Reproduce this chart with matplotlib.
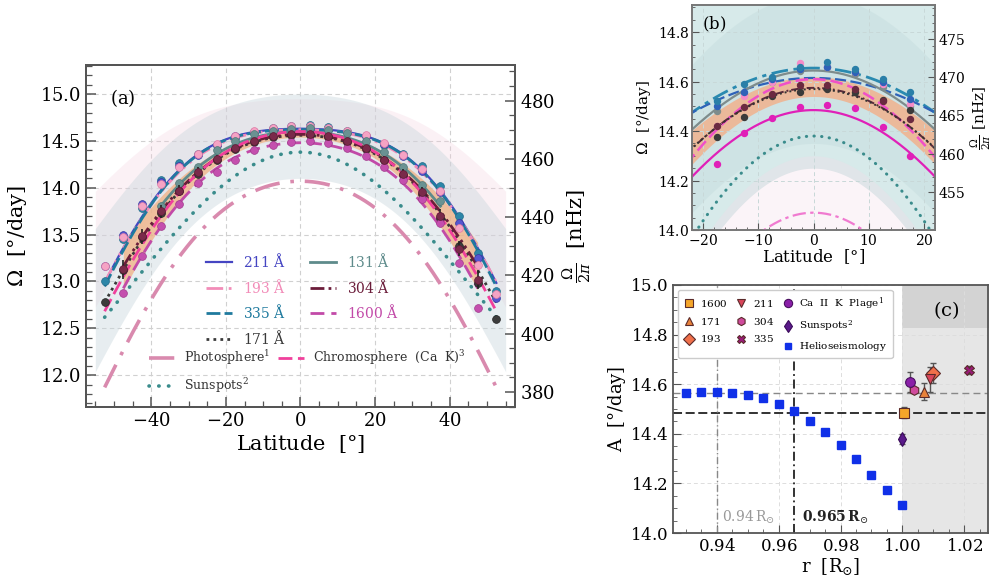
import numpy as np
import matplotlib
matplotlib.use('Agg')
import matplotlib.pyplot as plt
from matplotlib.ticker import FuncFormatter, MultipleLocator

plt.rcParams['mathtext.fontset'] = 'dejavuserif'
plt.rcParams['font.family'] = ['DejaVu Serif']
plt.rcParams['axes.unicode_minus'] = True

NHZ = 1e9 / (86400.0 * 360.0)   # (deg/day) -> nHz

# ======================= panel (a) data =======================
lat_pts = [-52.5, -47.5, -42.5, -37.5, -32.5, -27.5, -22.5, -17.5, -12.5, -7.5, -2.5,
           2.5, 7.5, 12.5, 17.5, 22.5, 27.5, 32.5, 37.5, 42.5, 47.5, 52.5]
lat_pts_47 = [-47.5, -42.5, -37.5, -32.5, -27.5, -22.5, -17.5, -12.5, -7.5, -2.5,
              2.5, 7.5, 12.5, 17.5, 22.5, 27.5, 32.5, 37.5, 42.5, 47.5]
lat_pts_37 = [-37.5, -32.5, -27.5, -22.5, -17.5, -12.5, -7.5, -2.5,
              2.5, 7.5, 12.5, 17.5, 22.5, 27.5, 32.5, 37.5]

pts_211 = [13.16, 13.50, 13.83, 14.06, 14.23, 14.35, 14.46, 14.55, 14.60, 14.63, 14.64,
           14.64, 14.63, 14.60, 14.55, 14.47, 14.34, 14.18, 13.95, 13.62, 13.25, 12.82]
pts_193 = [13.17, 13.47, 13.80, 14.04, 14.22, 14.36, 14.47, 14.55, 14.61, 14.64, 14.66,
           14.66, 14.64, 14.61, 14.56, 14.48, 14.35, 14.20, 13.97, 13.57, 13.18, 12.87]
pts_335 = [13.00, 13.45, 13.78, 14.08, 14.26, 14.36, 14.46, 14.53, 14.60, 14.64, 14.66,
           14.67, 14.65, 14.61, 14.55, 14.46, 14.36, 14.23, 14.02, 13.70, 13.30, 12.90]
pts_171 = [12.78, 13.12, 13.47, 13.73, 13.96, 14.15, 14.30, 14.41, 14.49, 14.54, 14.56,
           14.56, 14.54, 14.49, 14.41, 14.30, 14.14, 13.93, 13.68, 13.38, 12.98, 12.60]
pts_131 = [13.80, 14.05, 14.22, 14.40, 14.50, 14.57, 14.61, 14.63,
           14.64, 14.62, 14.58, 14.50, 14.38, 14.22, 14.03, 13.86]
pts_304 = [13.13, 13.48, 13.75, 13.97, 14.17, 14.31, 14.42, 14.50, 14.55, 14.57,
           14.57, 14.55, 14.50, 14.42, 14.30, 14.15, 13.95, 13.70, 13.35, 13.02]
err_304 = [0.10, 0.08, 0.07, 0.06, 0.05, 0.04, 0.03, 0.03, 0.02, 0.02,
           0.02, 0.02, 0.03, 0.03, 0.04, 0.05, 0.06, 0.07, 0.08, 0.10]
pts_1600 = [12.88, 13.27, 13.59, 13.83, 14.05, 14.17, 14.30, 14.40, 14.46, 14.49,
            14.50, 14.48, 14.42, 14.34, 14.22, 14.08, 13.88, 13.62, 13.20, 12.72]

# fitted rotation profiles  Omega = A + B sin^2 + C sin^4   (deg/day)
fit_211 = (14.63, -0.60, -3.20)
fit_193 = (14.62, -0.70, -3.00)
fit_335 = (14.62, -0.55, -3.35)
fit_171 = (14.56, -1.45, -2.20)
fit_131 = (14.60, -1.30, -2.30)
fit_304 = (14.57, -1.45, -2.10)
fit_1600 = (14.48, -1.50, -2.50)
fit_phot = (14.07, -2.20, -2.06)
fit_chrom = (14.60, -1.60, -2.30)
fit_spot = (14.38, -2.80, 0.00)

# uncertainty envelopes (A, B, C) of lower / upper edges
band_gray_lo = (14.10, -1.60, -2.20)
band_gray_hi = (15.00, -1.00, -1.70)
band_pink_lo = (14.50, -0.90, -2.60)
band_pink_hi = (14.95, -0.50, -1.45)
band_304_lo = (14.54, -1.65, -2.50)
band_304_hi = (14.60, -1.25, -1.70)

# ======================= panel (b) data =======================
lat_b = [-17.5, -12.5, -7.5, -2.5, 2.5, 7.5, 12.5, 17.5]
b_335 = [14.52, 14.59, 14.62, 14.66, 14.68, 14.65, 14.61, 14.56]
b_211 = [14.50, 14.56, 14.61, 14.65, 14.66, 14.64, 14.60, 14.53]
b_131 = [14.48, 14.55, 14.60, 14.645, 14.66, 14.63, 14.58, 14.50]
b_193 = [14.42, 14.54, 14.60, 14.675, 14.66, 14.64, 14.59, 14.51]
b_171 = [14.377, 14.458, 14.54, 14.559, 14.572, 14.56, 14.525, 14.485]
b_304 = [14.42, 14.498, 14.55, 14.588, 14.585, 14.57, 14.52, 14.45]
b_1600 = [14.265, 14.393, 14.454, 14.498, 14.505, 14.495, 14.417, 14.30]

fitb_335 = (14.655, -1.28, 0.0)
fitb_211 = (14.615, -1.00, 0.0)
fitb_131 = (14.645, -1.70, 0.0)
fitb_chrom = (14.61, -2.25, 0.0)
fitb_304 = (14.575, -1.75, 0.0)
fitb_171 = (14.57, -1.70, 0.0)
fitb_1600 = (14.485, -1.92, 0.0)
fitb_spot = (14.38, -2.93, 0.0)
fitb_phot = (14.07, -2.90, 0.0)

bandb_teal_lo = (14.25, -2.93, 0.0)
bandb_teal_hi = (15.60, -2.93, 0.0)
bandb_mid_lo = (14.35, -2.00, 0.0)
bandb_mid_hi = (14.95, -2.00, 0.0)
bandb_pink_lo = (13.60, -2.90, 0.0)
bandb_pink_hi = (14.30, -2.90, 0.0)
bandb_304_lo = (14.54, -1.95, 0.0)
bandb_304_hi = (14.62, -1.55, 0.0)

# ======================= panel (c) data =======================
helio_r = [0.930, 0.935, 0.940, 0.945, 0.950, 0.955, 0.960, 0.965,
           0.970, 0.975, 0.980, 0.985, 0.990, 0.995, 1.000]
helio_A = [14.566, 14.567, 14.569, 14.566, 14.555, 14.543, 14.520, 14.490,
           14.452, 14.406, 14.355, 14.297, 14.234, 14.173, 14.113]
obs_names = ['1600', '171', '193', '211', '304', '335']
obs_r = [1.0005, 1.0071, 1.0098, 1.0090, 1.0039, 1.0216]
obs_A = [14.485, 14.570, 14.645, 14.620, 14.575, 14.658]
obs_err = [0.022, 0.035, 0.040, 0.050, 0.010, 0.015]
plage_r, plage_A, plage_err = 1.0026, 14.610, 0.040
spot_r, spot_A, spot_err = 1.0000, 14.380, 0.020
ref_A = [14.565, 14.485]
ref_r = [0.940, 0.965]


def rot(lat, coef):
    s2 = np.sin(np.radians(lat)) ** 2
    return coef[0] + coef[1] * s2 + coef[2] * s2 ** 2


def math_fmt(fmt):
    return FuncFormatter(lambda v, p: '$' + (fmt % v) + '$')


SP = '#555555'
fig = plt.figure(figsize=(9.93, 5.84), dpi=100)

# ---------------------------------------------------------------- (a)
axa = fig.add_axes([0.0866, 0.3031, 0.432, 0.5856])
axa.set_xlim(-57.5, 57.5)
axa.set_ylim(11.66, 15.31)
axa.set_axisbelow(True)
axa.grid(True, which='major', ls=(0, (4, 3)), color='#d0d0d0', lw=0.8)

lf = np.linspace(-52.5, 52.5, 300)
lb_a = np.linspace(-55, 55, 300)
l47 = np.linspace(-47.5, 47.5, 300)
l37 = np.linspace(-37.5, 37.5, 300)
axa.fill_between(lb_a, rot(lb_a, band_pink_lo), rot(lb_a, band_pink_hi), color='#f4cddd', alpha=0.28, lw=0, zorder=1)
axa.fill_between(lb_a, rot(lb_a, band_gray_lo), rot(lb_a, band_gray_hi), color='#c8d6dc', alpha=0.42, lw=0, zorder=1)
axa.fill_between(l47, rot(l47, band_304_lo), rot(l47, band_304_hi), color='#f2ae7c', alpha=0.7, lw=0, zorder=2)

c211, c193, c335, c171 = '#4545c2', '#f28cb8', '#1f7a9e', '#3a3a3a'
c131, c304, c1600 = '#5e8b8b', '#6b1d3a', '#c24aa8'
cphot, cchrom, cspot = '#d98aae', '#f0409c', '#3a8c8c'

l_211, = axa.plot(lf, rot(lf, fit_211), color=c211, lw=1.6, ls='-', zorder=3, label=r'$211\ \mathrm{\AA}$')
l_193, = axa.plot(lf, rot(lf, fit_193), color=c193, lw=2.0, ls=(0, (6, 2, 1, 2, 1, 2)), zorder=3, label=r'$193\ \mathrm{\AA}$')
l_335, = axa.plot(lf, rot(lf, fit_335), color=c335, lw=2.0, ls=(0, (5, 1.5)), zorder=3, label=r'$335\ \mathrm{\AA}$')
l_171, = axa.plot(lf, rot(lf, fit_171), color=c171, lw=2.0, ls=(0, (1, 1.5)), zorder=3, label=r'$171\ \mathrm{\AA}$')
l_131, = axa.plot(l37, rot(l37, fit_131), color=c131, lw=2.0, ls='-', zorder=3, label=r'$131\ \mathrm{\AA}$')
l_304, = axa.plot(l47, rot(l47, fit_304), color=c304, lw=2.0, ls=(0, (5, 1.5, 1, 1.5, 1, 1.5)), zorder=3, label=r'$304\ \mathrm{\AA}$')
l_1600, = axa.plot(l47, rot(l47, fit_1600), color=c1600, lw=2.0, ls=(0, (5, 2.5)), zorder=3, label=r'$1600\ \mathrm{\AA}$')
l_phot, = axa.plot(lf, rot(lf, fit_phot), color=cphot, lw=2.6, ls=(0, (7, 3, 1, 3)), zorder=3, label=r'$\mathrm{Photosphere}^1$')
l_chrom, = axa.plot(lf, rot(lf, fit_chrom), color=cchrom, lw=2.0, ls=(0, (5, 2)), zorder=3, label=r'$\mathrm{Chromosphere\ \ (Ca\ \ K)}^3$')
l_spot, = axa.plot(lf, rot(lf, fit_spot), color=cspot, lw=2.6, ls=(0, (0.1, 2.6)), dash_capstyle='round', zorder=3, label=r'$\mathrm{Sunspots}^2$')

ms = 5.6
axa.plot(lat_pts, pts_335, 'o', ms=ms, color='#2d86a8', mec='#1f6a88', mew=0.5, zorder=4)
axa.plot(lat_pts, pts_211, 'o', ms=ms, color='#5656d0', mec='#3535a0', mew=0.5, zorder=4)
axa.plot(lat_pts, pts_193, 'o', ms=ms, color='#f5a3c4', mec='#e07aa5', mew=0.5, zorder=4)
axa.plot(lat_pts, pts_171, 'o', ms=ms, color='#3c3c3c', mec='#222222', mew=0.5, zorder=4)
axa.plot(lat_pts_37, pts_131, 'o', ms=ms, color='#6a9292', mec='#4e7676', mew=0.5, zorder=4)
axa.errorbar(lat_pts_47, pts_304, yerr=err_304, fmt='o', ms=ms, color='#7a2a4a', mec='#5a1a33',
             mew=0.5, ecolor='#222222', elinewidth=1.2, capsize=0, zorder=4)
axa.plot(lat_pts_47, pts_1600, 'o', ms=ms, color='#c44fae', mec='#a03a8c', mew=0.5, zorder=4)

axa.xaxis.set_major_locator(MultipleLocator(20))
axa.xaxis.set_minor_locator(MultipleLocator(5))
axa.yaxis.set_major_locator(MultipleLocator(0.5))
axa.yaxis.set_minor_locator(MultipleLocator(0.1))
axa.xaxis.set_major_formatter(math_fmt('%g'))
axa.yaxis.set_major_formatter(math_fmt('%.1f'))
axa.tick_params(which='both', direction='in', top=False, right=False, labelsize=13, color=SP)
axa.tick_params(which='major', length=7, width=1.1)
axa.tick_params(which='minor', length=4, width=0.9)
axa.set_xlabel(r'$\mathrm{Latitude\ \ [°]}$', fontsize=15, labelpad=2)
axa.set_ylabel(r'$\Omega\ \ [\mathrm{°/day}]$', fontsize=15, labelpad=8)
for s in axa.spines.values():
    s.set_color(SP)
    s.set_linewidth(1.4)
axa.text(0.055, 0.935, r'$\mathrm{(a)}$', transform=axa.transAxes, fontsize=13, va='top')

leg1 = axa.legend(handles=[l_211, l_193, l_335, l_171, l_131, l_304, l_1600], ncol=2,
                  loc='upper left', bbox_to_anchor=(0.25, 0.49), frameon=False, fontsize=10,
                  handlelength=1.9, handletextpad=0.8, columnspacing=1.7, labelspacing=0.55,
                  labelcolor='linecolor')
axa.add_artist(leg1)
leg2 = axa.legend(handles=[l_phot, l_spot, l_chrom], ncol=2, loc='upper left',
                  bbox_to_anchor=(0.121, 0.204), frameon=False, fontsize=9,
                  handlelength=2.1, handletextpad=0.7, columnspacing=0.6, labelspacing=0.7,
                  labelcolor='#333333')

axa2 = axa.twinx()
axa2.set_ylim(11.66 * NHZ, 15.31 * NHZ)
axa2.yaxis.set_major_locator(MultipleLocator(20))
axa2.yaxis.set_minor_locator(MultipleLocator(5))
axa2.yaxis.set_major_formatter(math_fmt('%g'))
axa2.tick_params(which='both', direction='in', labelsize=13, color=SP)
axa2.tick_params(which='major', length=7, width=1.1)
axa2.tick_params(which='minor', length=4, width=0.9)
axa2.set_ylabel(r'$\frac{\Omega}{2\pi}\ \ [\mathrm{nHz}]$', fontsize=15, labelpad=4)
for s in axa2.spines.values():
    s.set_color(SP)
    s.set_linewidth(1.4)

# ---------------------------------------------------------------- (b)
axb = fig.add_axes([0.6969, 0.6062, 0.2447, 0.3852])
axb.set_xlim(-22, 22)
axb.set_ylim(14.0, 14.91)
lb = np.linspace(-23, 23, 300)
axb.fill_between(lb, rot(lb, bandb_teal_lo), rot(lb, bandb_teal_hi), color='#d7eaea', lw=0, zorder=0.5)
axb.fill_between(lb, rot(lb, bandb_mid_lo), rot(lb, bandb_mid_hi), color='#bcd6d7', alpha=0.3, lw=0, zorder=0.6)
axb.fill_between(lb, rot(lb, bandb_pink_lo), rot(lb, bandb_pink_hi), color='#f5dbe8', alpha=0.3, lw=0, zorder=0.7)
axb.grid(True, which='major', ls=(0, (4, 3)), color='#c8d8d8', lw=0.7, zorder=0.8)
axb.fill_between(lb, rot(lb, bandb_304_lo), rot(lb, bandb_304_hi), color='#f6ab82', alpha=0.75, lw=0, zorder=1)

axb.plot(lb, rot(lb, fitb_335), color='#2a8ab0', lw=2.0, ls=(0, (6, 2, 1.5, 2)), zorder=3)
axb.plot(lb, rot(lb, fitb_211), color='#2f62b8', lw=1.6, ls=(0, (5, 2)), zorder=3)
axb.plot(lb, rot(lb, fitb_131), color='#7e8c8c', lw=1.6, ls='-', zorder=3)
axb.plot(lb, rot(lb, fitb_chrom), color='#f050c8', lw=1.8, ls=(0, (5, 2)), zorder=3)
axb.plot(lb, rot(lb, fitb_304), color='#5a2a3a', lw=1.4, ls=(0, (4, 1.5, 1, 1.5)), zorder=3)
axb.plot(lb, rot(lb, fitb_171), color='#333333', lw=1.4, ls=(0, (1, 1.5)), zorder=3)
axb.plot(lb, rot(lb, fitb_1600), color='#e020b8', lw=1.6, ls='-', zorder=3)
axb.plot(lb, rot(lb, fitb_spot), color='#3a8c8c', lw=2.2, ls=(0, (0.1, 2.4)), dash_capstyle='round', zorder=3)
axb.plot(lb, rot(lb, fitb_phot), color='#f07ad0', lw=1.6, ls=(0, (6, 2, 1.5, 2)), zorder=3)

msb = 4.3
axb.plot(lat_b, b_131, 'o', ms=msb, color='#7e8c8c', zorder=4)
axb.plot(lat_b, b_193, 'o', ms=msb, color='#f58cc8', zorder=4)
axb.plot(lat_b, b_211, 'o', ms=msb, color='#2f62b8', zorder=4)
axb.plot(lat_b, b_335, 'o', ms=msb, color='#2a7fa8', zorder=4)
axb.plot(lat_b, b_171, 'o', ms=msb, color='#3a3a3a', zorder=4)
axb.plot(lat_b, b_304, 'o', ms=msb, color='#6b2a40', zorder=4)
axb.plot(lat_b, b_1600, 'o', ms=msb, color='#e020b8', zorder=4)

axb.xaxis.set_major_locator(MultipleLocator(10))
axb.xaxis.set_minor_locator(MultipleLocator(2))
axb.yaxis.set_major_locator(MultipleLocator(0.2))
axb.yaxis.set_minor_locator(MultipleLocator(0.05))
axb.xaxis.set_major_formatter(math_fmt('%g'))
axb.yaxis.set_major_formatter(math_fmt('%.1f'))
axb.tick_params(which='both', direction='in', top=False, right=False, labelsize=10, color=SP, pad=2)
axb.tick_params(which='major', length=5)
axb.tick_params(which='minor', length=2.5)
axb.set_xlabel(r'$\mathrm{Latitude\ \ [°]}$', fontsize=12, labelpad=0)
axb.set_ylabel(r'$\Omega\ \ [\mathrm{°/day}]$', fontsize=11, labelpad=3)
for s in axb.spines.values():
    s.set_color('#777777')
    s.set_linewidth(1.2)
axb.text(0.04, 0.955, r'$\mathrm{(b)}$', transform=axb.transAxes, fontsize=12, va='top')

axb2 = axb.twinx()
axb2.set_ylim(14.0 * NHZ, 14.91 * NHZ)
axb2.yaxis.set_major_locator(MultipleLocator(5))
axb2.yaxis.set_minor_locator(MultipleLocator(1))
axb2.yaxis.set_major_formatter(math_fmt('%g'))
axb2.tick_params(which='both', direction='in', labelsize=10, color=SP, pad=2)
axb2.tick_params(which='major', length=5)
axb2.tick_params(which='minor', length=2.5)
axb2.set_ylabel(r'$\frac{\Omega}{2\pi}\ [\mathrm{nHz}]$', fontsize=11, labelpad=2)
for s in axb2.spines.values():
    s.set_color('#777777')
    s.set_linewidth(1.2)

# ---------------------------------------------------------------- (c)
axc = fig.add_axes([0.6777, 0.0873, 0.3173, 0.4247])
axc.set_xlim(0.9258, 1.0277)
axc.set_ylim(14.0, 15.0)
axc.axvspan(1.0, 1.03, color='#e6e6e6', lw=0, zorder=0.2)
axc.fill_between([1.0, 1.03], [14.825, 14.825], [15.0, 15.0], color='#d3d3d3', lw=0, zorder=0.3)
axc.set_axisbelow(True)
axc.grid(True, which='major', ls=(0, (4, 3)), color='#dddddd', lw=0.7, zorder=0.4)

axc.axhline(ref_A[0], color='#888888', ls=(0, (5, 3)), lw=1.0, zorder=1)
axc.axhline(ref_A[1], color='#222222', ls=(0, (5, 2)), lw=1.3, zorder=1)
axc.axvline(ref_r[0], color='#888888', ls=(0, (5, 2, 1, 2)), lw=1.0, zorder=1)
axc.axvline(ref_r[1], color='#222222', ls=(0, (5, 2, 1, 2)), lw=1.3, zorder=1)
axc.text(0.9415, 14.045, r'$0.94\,\mathrm{R}_{\odot}$', color='#999999', fontsize=10)
axc.text(0.9675, 14.045, r'$\mathbf{0.965\,R}_{\odot}$', color='#222222', fontsize=10)

mk = {'1600': ('s', '#f5a62a', 6.5), '171': ('^', '#e8823a', 6.5), '193': ('D', '#f0704a', 7),
      '211': ('v', '#d9455a', 6.5), '304': ('h', '#cf4a9c', 7), '335': ('X', '#9b1b7b', 7)}
handles = []
for name, r, a, e in zip(obs_names, obs_r, obs_A, obs_err):
    m, c, s = mk[name]
    axc.errorbar([r], [a], yerr=[e], fmt='none', ecolor='#555555', elinewidth=1.0, capsize=2, zorder=3)
    h, = axc.plot([r], [a], ls='none', marker=m, ms=s, mfc=c, mec='#5a2a2a', mew=0.8, zorder=4, label=r'$%s$' % name)
    handles.append(h)
axc.errorbar([plage_r], [plage_A], yerr=[plage_err], fmt='none', ecolor='#555555', elinewidth=1.0, capsize=2, zorder=3)
h_pl, = axc.plot([plage_r], [plage_A], ls='none', marker='o', ms=7, mfc='#8a1fa8', mec='#4a1060', mew=0.8,
                 zorder=4, label=r'$\mathrm{Ca\ \ II\ \ K\ \ Plage}^1$')
axc.errorbar([spot_r], [spot_A], yerr=[spot_err], fmt='none', ecolor='#555555', elinewidth=1.0, capsize=2, zorder=3)
h_sp, = axc.plot([spot_r], [spot_A], ls='none', marker='d', ms=7.5, mfc='#5a1a8a', mec='#3a0a5a', mew=0.8,
                 zorder=4, label=r'$\mathrm{Sunspots}^2$')
h_he, = axc.plot(helio_r, helio_A, ls='none', marker='s', ms=5.5, color='#1030e8', zorder=4,
                 label=r'$\mathrm{Helioseismology}$')
axc.legend(handles=handles + [h_pl, h_sp, h_he], ncol=3, loc='upper left', bbox_to_anchor=(0.0, 1.0),
           fontsize=7.5, frameon=True, fancybox=True, edgecolor='#cccccc', framealpha=1,
           handlelength=1.0, handletextpad=0.6, columnspacing=0.8, labelspacing=0.65, borderpad=0.5,
           markerscale=0.85)
axc.text(1.0141, 14.90, r'$\mathrm{(c)}$', fontsize=14, ha='center', va='center')

axc.xaxis.set_major_locator(MultipleLocator(0.02))
axc.xaxis.set_minor_locator(MultipleLocator(0.005))
axc.yaxis.set_major_locator(MultipleLocator(0.2))
axc.yaxis.set_minor_locator(MultipleLocator(0.05))
axc.xaxis.set_major_formatter(math_fmt('%.2f'))
axc.yaxis.set_major_formatter(math_fmt('%.1f'))
axc.tick_params(which='both', direction='in', top=False, right=False, labelsize=12, color=SP)
axc.tick_params(which='major', length=6)
axc.tick_params(which='minor', length=3)
axc.set_xlabel(r'$\mathrm{r\ \ [R_{\odot}]}$', fontsize=13, labelpad=1)
axc.set_ylabel(r'$\mathrm{A\ \ [°/day]}$', fontsize=13, labelpad=1)
for s in axc.spines.values():
    s.set_color(SP)
    s.set_linewidth(1.3)

fig.savefig('out.png', dpi=100)
